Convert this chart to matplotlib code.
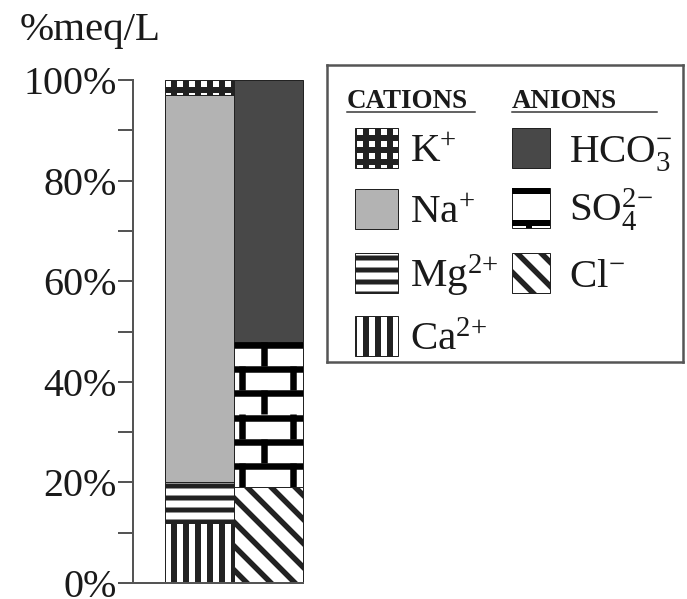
import numpy as np
import matplotlib
matplotlib.use('Agg')
import matplotlib.pyplot as plt
from matplotlib.patches import Rectangle

plt.rcParams['font.family'] = ['Liberation Serif', 'DejaVu Serif']
plt.rcParams['mathtext.fontset'] = 'custom'
plt.rcParams['mathtext.rm'] = 'Liberation Serif'
plt.rcParams['mathtext.it'] = 'Liberation Serif:italic'
plt.rcParams['mathtext.bf'] = 'Liberation Serif:bold'

# values in % of meq/L, stacked from the bottom
cation_ions = ['Ca2+', 'Mg2+', 'Na+', 'K+']
cation_pct = [12, 8, 77, 3]
anion_ions = ['Cl-', 'SO42-', 'HCO3-']
anion_pct = [19, 29, 52]
y_ticks = [0, 20, 40, 60, 80, 100]
y_minor = [10, 30, 50, 70, 90]
y_tick_labels = ['0%', '20%', '40%', '60%', '80%', '100%']

LABELS = {
    'K+': r'K$^{+}$', 'Na+': r'Na$^{+}$', 'Mg2+': r'Mg$^{2{+}}$', 'Ca2+': r'Ca$^{2{+}}$',
    'HCO3-': r'HCO$_3^{-}$', 'SO42-': r'SO$_4^{2{-}}$', 'Cl-': r'Cl$^{-}$',
}
STYLE = {
    'K+':    dict(fc='white', hatch='+', hlw=6),
    'Na+':   dict(fc='#b3b3b3', hatch=None, hlw=1),
    'Mg2+':  dict(fc='white', hatch='-', hlw=5),
    'Ca2+':  dict(fc='white', hatch='|', hlw=6),
    'HCO3-': dict(fc='#484848', hatch=None, hlw=1),
    'SO42-': dict(fc='white', hatch=None, hlw=1),
    'Cl-':   dict(fc='white', hatch='\\', hlw=5.5),
}

W, H = 687, 599
fig = plt.figure(figsize=(W / 72, H / 72), dpi=72)


def draw_bricks(ax, x0, x1, y0, y1, row_h, joints, lw, off, clip):
    # mortar lines at the top of each row, joints alternating per row
    w = x1 - x0
    lo, hi = min(y0, y1), max(y0, y1)
    n = int(np.ceil(abs(y1 - y0) / abs(row_h) - 1e-9))
    for k in range(n):
        top = y1 - k * row_h
        bot = float(np.clip(top - row_h, lo, hi))
        ln, = ax.plot([x0, x1], [top - off, top - off], color='black', lw=lw,
                      solid_capstyle='butt')
        ln.set_clip_path(clip)
        for f in joints[k % 2]:
            ln, = ax.plot([x0 + f * w] * 2, [bot, top], color='black', lw=lw,
                          solid_capstyle='butt')
            ln.set_clip_path(clip)


def styled(ion, patch):
    st = STYLE[ion]
    patch.set_facecolor(st['fc'])
    patch.set_edgecolor('#222222')
    if st['hatch']:
        patch.set_hatch(st['hatch'])
        if hasattr(patch, 'set_hatch_linewidth'):
            patch.set_hatch_linewidth(st['hlw'])
    return patch


# main stacked bars
ax = fig.add_axes([133 / W, 16 / H, 170 / W, 503 / H])
for x, ions, pct in [(0, cation_ions, cation_pct), (1, anion_ions, anion_pct)]:
    bottom = 0
    for ion, v in zip(ions, pct):
        st = STYLE[ion]
        with plt.rc_context({'hatch.linewidth': st['hlw']}):
            bc = ax.bar(x, v, bottom=bottom, width=1, align='edge', linewidth=1)
        p = styled(ion, bc[0])
        p.set_clip_on(False)
        if ion == 'SO42-':
            draw_bricks(ax, x, x + 1, bottom, bottom + v, v / 6,
                        [[0.44], [0.11, 0.86]], 6.5, 0.65, p)
        bottom += v

ax.set_xlim(-0.464, 2.0)
ax.set_ylim(0, 100)
for s in ['top', 'right']:
    ax.spines[s].set_visible(False)
for s in ['left', 'bottom']:
    ax.spines[s].set_color('#555555')
    ax.spines[s].set_linewidth(2)
ax.set_xticks([])
ax.set_yticks(y_ticks, y_tick_labels)
ax.set_yticks(y_minor, minor=True)
ax.tick_params(axis='y', which='both', length=15, width=2, color='#555555',
               pad=1, labelsize=40, labelcolor='#1a1a1a')

fig.text(20 / W, 1 - 40 / H, '%meq/L', fontsize=41, color='#1a1a1a', va='baseline')

# legend box
lax = fig.add_axes([327 / W, (H - 362) / H, 356 / W, 297 / H])
lax.set_xlim(0, 356)
lax.set_ylim(297, 0)
lax.set_xticks([])
lax.set_yticks([])
for s in lax.spines.values():
    s.set_color('#555555')
    s.set_linewidth(2.5)

for x, x1, txt in [(20, 148, 'CATIONS'), (185, 330, 'ANIONS')]:
    lax.text(x, 43, txt, fontsize=27, fontweight='bold', color='#1a1a1a', va='baseline')
    lax.plot([x, x1], [47, 47], color='#333333', lw=1.5)

cation_rows = [('K+', 63), ('Na+', 124), ('Mg2+', 188), ('Ca2+', 251)]
anion_rows = [('HCO3-', 63), ('SO42-', 123), ('Cl-', 188)]
for rows, sx, sw, tx in [(cation_rows, 28, 43, 83), (anion_rows, 185, 38, 242)]:
    for ion, top in rows:
        st = STYLE[ion]
        with plt.rc_context({'hatch.linewidth': st['hlw']}):
            r = Rectangle((sx, top), sw, 40, linewidth=1)
        styled(ion, r)
        lax.add_patch(r)
        if ion == 'SO42-':
            draw_bricks(lax, sx, sx + sw, top + 40, top, -32,
                        [[], [0.45]], 6, -3, r)
        lax.text(tx, top + 34, LABELS[ion], fontsize=41, color='#1a1a1a', va='baseline')

fig.savefig('out.png', dpi=72)
